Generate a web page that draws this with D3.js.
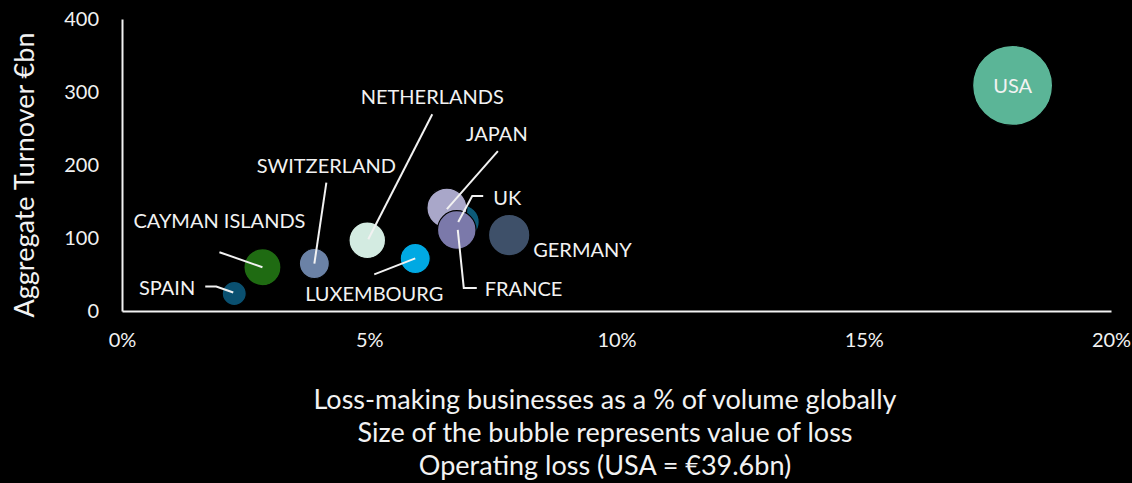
<!DOCTYPE html>
<html>
<head>
<meta charset="utf-8">
<script src="https://cdn.jsdelivr.net/npm/d3@7"></script>
<style>
  html, body { margin: 0; padding: 0; background: #000; }
  svg { display: block; }
  text { font-family: Lato, "Open Sans", sans-serif; fill: #f2f2f2; }
</style>
</head>
<body>
<svg id="chart" width="1132" height="483"></svg>
<script>
// Countries, drawn in this order (later ones sit on top)
const countries = ["SPAIN", "CAYMAN ISLANDS", "SWITZERLAND", "NETHERLANDS", "LUXEMBOURG",
                   "UK", "JAPAN", "FRANCE", "GERMANY", "USA"];
// Loss-making businesses as a share of volume globally
const lossShare = [0.0227, 0.0284, 0.0389, 0.0496, 0.0593, 0.0688, 0.0657, 0.0677, 0.0783, 0.1801];
// Aggregate turnover, €bn
const turnover = [24, 60, 65, 97, 72, 122, 141, 111, 104, 309];
// Operating loss, €bn (bubble size)
const operatingLoss = [3.6, 8.5, 5.6, 8.3, 5.6, 7.2, 9.9, 9.2, 10.6, 39.6];
const bubbleColors = ["#0a5070", "#1f6b12", "#6b82a6", "#d3ebe1", "#00a9e3",
                      "#0c5a78", "#a9a7c9", "#7b79aa", "#3e5069", "#5bb597"];

const xTickValues = [0, 0.05, 0.10, 0.15, 0.20];
const yTickValues = [0, 100, 200, 300, 400];

const yTitle = "Aggregate Turnover €bn";
const footLines = [
  "Loss-making businesses as a % of volume globally",
  "Size of the bubble represents value of loss",
  "Operating loss (USA = €39.6bn)"
];

// Label placement relative to each bubble centre (pixels): text position, anchor, leader polyline
const labelLayout = [
  { dx: -39, dy: -6,   anchor: "end",    leader: [[-29, -7], [-18, -7], [-1, -1]] },
  { dx: -43, dy: -46,  anchor: "middle", leader: [[-43, -15], [0, 0]] },
  { dx: 12,  dy: -98,  anchor: "middle", leader: [[12, -81], [0, 0]] },
  { dx: 65,  dy: -143, anchor: "middle", leader: [[65, -126], [1, -1]] },
  { dx: -41, dy: 35,   anchor: "middle", leader: [[-41, 16], [0, 0]] },
  { dx: 31,  dy: -24,  anchor: "start",  leader: [[21, -26], [10, -26], [-4, 0]] },
  { dx: 50,  dy: -74,  anchor: "middle", leader: [[51, -57], [0, 1]] },
  { dx: 28,  dy: 59,   anchor: "start",  leader: [[1, 0], [7, 58], [20, 58]] },
  { dx: 24,  dy: 15,   anchor: "start",  leader: null },
  { dx: 0,   dy: 0,    anchor: "middle", leader: null }
];

const svg = d3.select("#chart");
const plot = { left: 122, right: 1111, top: 19, bottom: 311 };

const x = d3.scaleLinear().domain([0, 0.20]).range([plot.left, plot.right]);
const y = d3.scaleLinear().domain([0, 400]).range([plot.bottom, plot.top]);
const r = d3.scaleSqrt().domain([0, 39.6]).range([0, 40]);

const axisColor = "#f2f2f2";
const tickFont = 20;
const labelFont = 20;
const titleFont = 27;

// Axes
const xAxis = svg.append("g")
  .attr("transform", `translate(0,${plot.bottom})`)
  .call(d3.axisBottom(x).tickValues(xTickValues).tickFormat(d3.format(".0%")).tickSize(0).tickPadding(22));
const yAxis = svg.append("g")
  .attr("transform", `translate(${plot.left},0)`)
  .call(d3.axisLeft(y).tickValues(yTickValues).tickSize(0).tickPadding(23));

[xAxis, yAxis].forEach(g => {
  g.attr("font-size", tickFont).attr("font-family", "Lato, 'Open Sans', sans-serif");
  g.select(".domain").attr("stroke", axisColor).attr("stroke-width", 2);
  g.selectAll("text").attr("font-size", tickFont).attr("fill", "#f2f2f2");
});

// Bubbles
const rows = countries.map((name, i) => ({
  name, share: lossShare[i], turnover: turnover[i], loss: operatingLoss[i],
  color: bubbleColors[i], layout: labelLayout[i]
}));

svg.append("g").selectAll("circle")
  .data(rows)
  .join("circle")
  .attr("cx", d => x(d.share))
  .attr("cy", d => y(d.turnover))
  .attr("r", d => r(d.loss))
  .attr("fill", d => d.color)
  .attr("stroke", "#000")
  .attr("stroke-width", 1.2);

// Leader lines
const line = d3.line();
svg.append("g").selectAll("path")
  .data(rows.filter(d => d.layout.leader))
  .join("path")
  .attr("d", d => line(d.layout.leader.map(([px, py]) => [x(d.share) + px, y(d.turnover) + py])))
  .attr("fill", "none")
  .attr("stroke", "#f2f2f2")
  .attr("stroke-width", 2);

// Data labels (dy is the cap centre; shift down to the baseline)
svg.append("g").selectAll("text")
  .data(rows)
  .join("text")
  .attr("x", d => x(d.share) + d.layout.dx)
  .attr("y", d => y(d.turnover) + d.layout.dy + labelFont * 0.36)
  .attr("text-anchor", d => d.layout.anchor)
  .attr("font-size", labelFont)
  .text(d => d.name);

// Y axis title
svg.append("text")
  .attr("transform", `translate(34,${(plot.top + plot.bottom) / 2 + 10}) rotate(-90)`)
  .attr("text-anchor", "middle")
  .attr("font-size", titleFont)
  .text(yTitle);

// Explanatory lines below the x axis
svg.append("g").selectAll("text")
  .data(footLines)
  .join("text")
  .attr("x", 605)
  .attr("y", (d, i) => 409 + i * 33)
  .attr("text-anchor", "middle")
  .attr("font-size", titleFont)
  .text(d => d);
</script>
</body>
</html>
